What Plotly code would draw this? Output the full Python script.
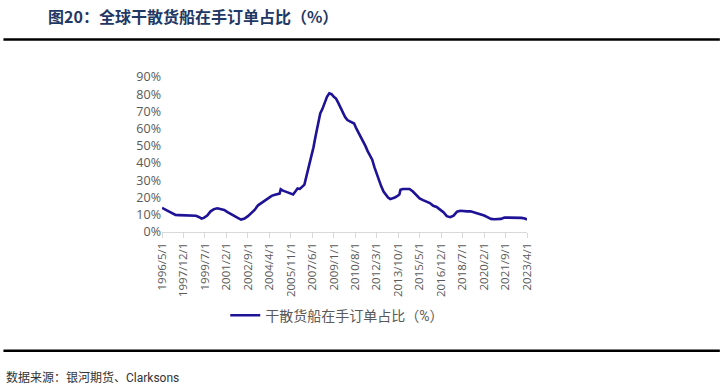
import plotly.graph_objects as go

# Data (month, orderbook share %)
dates = [
    "1996-05-01", "1996-08-01", "1996-11-01", "1997-02-01", "1997-05-01", "1997-08-01",
    "1997-11-01", "1998-02-01", "1998-05-01", "1998-08-01", "1998-11-01", "1999-02-01",
    "1999-04-01", "1999-06-01", "1999-09-01", "1999-12-01", "2000-03-01", "2000-06-01",
    "2000-09-01", "2000-12-01", "2001-03-01", "2001-06-01", "2001-09-01", "2001-12-01",
    "2002-03-01", "2002-06-01", "2002-09-01", "2002-12-01", "2003-03-01", "2003-06-01",
    "2003-09-01", "2003-12-01", "2004-03-01", "2004-06-01", "2004-09-01", "2004-12-01",
    "2005-01-01", "2005-02-01", "2005-04-01", "2005-07-01", "2005-10-01", "2006-01-01",
    "2006-03-01", "2006-05-01", "2006-07-01", "2006-09-01", "2006-11-01", "2007-01-01",
    "2007-03-01", "2007-05-01", "2007-07-01", "2007-09-01", "2007-11-01", "2008-01-01",
    "2008-03-01", "2008-05-01", "2008-07-01", "2008-09-01", "2008-11-01", "2009-01-01",
    "2009-03-01", "2009-05-01", "2009-07-01", "2009-09-01", "2009-11-01", "2010-01-01",
    "2010-03-01", "2010-05-01", "2010-07-01", "2010-09-01", "2010-11-01", "2011-01-01",
    "2011-03-01", "2011-05-01", "2011-07-01", "2011-09-01", "2011-11-01", "2012-01-01",
    "2012-03-01", "2012-05-01", "2012-07-01", "2012-09-01", "2012-11-01", "2013-01-01",
    "2013-03-01", "2013-05-01", "2013-07-01", "2013-09-01", "2013-11-01", "2013-12-01",
    "2014-02-01", "2014-05-01", "2014-08-01", "2014-11-01", "2015-02-01", "2015-05-01",
    "2015-08-01", "2015-11-01", "2016-02-01", "2016-05-01", "2016-08-01", "2016-11-01",
    "2017-02-01", "2017-05-01", "2017-08-01", "2017-11-01", "2018-02-01", "2018-05-01",
    "2018-08-01", "2018-11-01", "2019-02-01", "2019-05-01", "2019-08-01", "2019-11-01",
    "2020-02-01", "2020-05-01", "2020-08-01", "2020-11-01", "2021-02-01", "2021-05-01",
    "2021-08-01", "2021-11-01", "2022-02-01", "2022-05-01", "2022-08-01", "2022-11-01",
    "2023-02-01", "2023-04-01",
]
share_pct = [
    14.0, 13.0, 12.2, 10.8, 9.9, 9.8,
    9.8, 9.8, 9.7, 9.5, 9.4, 8.6,
    7.8, 8.2, 9.5, 12.0, 13.3, 13.8,
    13.3, 12.8, 11.6, 10.3, 9.2, 8.2,
    7.2, 7.8, 9.2, 10.8, 12.8, 15.5,
    16.8, 18.0, 19.8, 21.0, 21.6, 22.0,
    22.3, 24.8, 24.0, 23.3, 22.5, 21.8,
    23.5, 25.3, 25.0, 26.0, 27.5, 33.0,
    38.0, 43.0, 49.0, 56.0, 62.0, 68.8,
    71.5, 75.0, 78.5, 80.5, 80.0, 78.5,
    77.5, 75.0, 72.0, 69.0, 66.8, 65.0,
    64.3, 63.8, 63.0, 60.0, 57.5, 55.0,
    53.0, 50.0, 47.0, 44.5, 42.0, 37.5,
    33.5, 30.0, 26.5, 23.5, 21.5, 20.0,
    19.1, 19.5, 20.0, 20.8, 21.8, 24.5,
    25.0, 25.0, 25.0, 23.5, 21.5, 19.5,
    18.5, 17.5, 16.8, 15.2, 14.5, 13.0,
    11.5, 9.2, 8.6, 9.5, 11.8, 12.3,
    12.0, 12.0, 12.0, 11.4, 11.0, 10.4,
    9.6, 8.6, 7.6, 7.4, 7.3, 7.6,
    8.4, 8.4, 8.4, 8.4, 8.4, 8.2,
    7.8, 7.3,
]
tick_dates = [
    "1996-05-01", "1997-12-01", "1999-07-01", "2001-02-01", "2002-09-01", "2004-04-01",
    "2005-11-01", "2007-06-01", "2009-01-01", "2010-08-01", "2012-03-01", "2013-10-01",
    "2015-05-01", "2016-12-01", "2018-07-01", "2020-02-01", "2021-09-01", "2023-04-01",
]
tick_labels = [
    "1996/5/1", "1997/12/1", "1999/7/1", "2001/2/1", "2002/9/1", "2004/4/1",
    "2005/11/1", "2007/6/1", "2009/1/1", "2010/8/1", "2012/3/1", "2013/10/1",
    "2015/5/1", "2016/12/1", "2018/7/1", "2020/2/1", "2021/9/1", "2023/4/1",
]
y_ticks = [0, 10, 20, 30, 40, 50, 60, 70, 80, 90]
y_labels = [f"{v}%" for v in y_ticks]
series_name = "干散货船在手订单占比（%）"
title_text = "图20：全球干散货船在手订单占比（%）"
source_text = "数据来源：银河期货、Clarksons"

W, H = 725, 391
L, R = 161.7, 527.0   # plot area in window pixels
T, B = 77.3, 231.7
pw, ph = R - L, B - T


def px(x):
    return (x - L) / pw


def py(y):
    return (B - y) / ph


fig = go.Figure()
fig.add_trace(go.Scatter(
    x=dates, y=share_pct, mode="lines", name=series_name,
    line=dict(color="#1E1296", width=2.6, shape="linear"),
))

CJK = "Noto Sans CJK SC, sans-serif"
LAT = "Roboto, Noto Sans CJK SC, sans-serif"
fig.update_layout(
    width=W, height=H,
    margin=dict(l=L, r=W - R, t=T, b=H - B, pad=0),
    plot_bgcolor="white", paper_bgcolor="white",
    font=dict(family=CJK, color="#595959", size=11),
    showlegend=True,
    legend=dict(
        orientation="h", x=px(225), y=py(315), xanchor="left", yanchor="middle",
        font=dict(size=14, color="#595959", family=LAT), bgcolor="rgba(0,0,0,0)",
    ),
    xaxis=dict(
        type="date", range=["1996-05-01", "2023-04-01"],
        tickvals=tick_dates, ticktext=tick_labels, tickangle=-90,
        showgrid=False, zeroline=False, showline=True, linecolor="#D9D9D9", linewidth=1,
        ticks="outside", ticklen=5, tickcolor="#D9D9D9",
        tickfont=dict(size=11.5, color="#595959", family="Open Sans, sans-serif"),
    ),
    yaxis=dict(
        range=[0, 90], tickvals=y_ticks, ticktext=y_labels,
        showgrid=False, zeroline=False, showline=False, ticks="",
        tickfont=dict(size=12.5, color="#595959", family="Open Sans, sans-serif"),
    ),
    shapes=[
        dict(type="line", xref="paper", yref="paper", x0=px(3), x1=px(720), y0=py(40), y1=py(40),
             line=dict(color="black", width=2.5)),
        dict(type="line", xref="paper", yref="paper", x0=px(3), x1=px(720), y0=py(350), y1=py(350),
             line=dict(color="black", width=2.5)),
    ],
    annotations=[
        dict(text="<b>" + title_text + "</b>", xref="paper", yref="paper", x=px(46), y=py(17),
             xanchor="left", yanchor="middle", showarrow=False,
             font=dict(size=16, color="#1F3864", family=CJK)),
        dict(text=source_text, xref="paper", yref="paper", x=px(4), y=py(377),
             xanchor="left", yanchor="middle", showarrow=False,
             font=dict(size=12, color="#333333", family=LAT)),
    ],
)

fig.write_html(
    "out.html",
    config={"displayModeBar": False},
    post_script="document.body.style.margin='0';",
)
